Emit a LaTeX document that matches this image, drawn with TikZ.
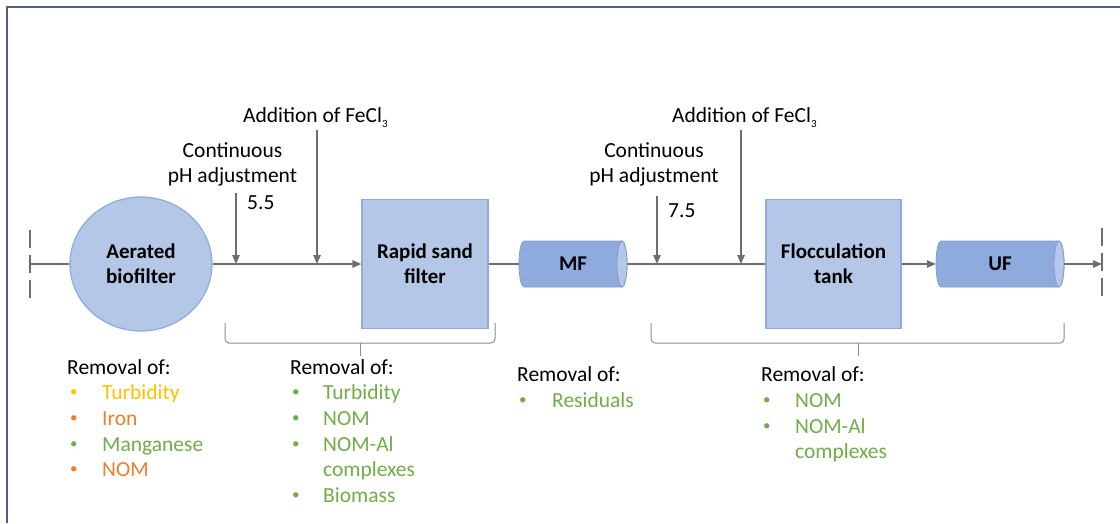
\documentclass[tikz,border=0pt]{standalone}
\usepackage{fontspec}
\setmainfont{Carlito}
\usetikzlibrary{arrows.meta,shapes.geometric}
\definecolor{boxfill}{HTML}{B4C7E7}
\definecolor{boxline}{HTML}{8FAADC}
\definecolor{cylfill}{HTML}{8FAADC}
\definecolor{cylline}{HTML}{7F9BD0}
\definecolor{lin}{HTML}{6E6E6E}
\definecolor{brc}{HTML}{8C8C8C}
\definecolor{framec}{HTML}{4F5D80}
\definecolor{ylw}{HTML}{FFC000}
\definecolor{org}{HTML}{ED7D31}
\definecolor{grn}{HTML}{70AD47}
\newcommand{\subthree}{\raisebox{-0.55ex}{\fontsize{11}{11}\selectfont 3}}
\begin{document}
\begin{tikzpicture}[x=1pt,y=-1pt,
  txt/.style={font=\fontsize{21.5}{25}\selectfont, inner sep=0pt, anchor=base west},
  bul/.style={font=\fontsize{15}{15}\selectfont, inner sep=0pt, anchor=base west},
  lbl/.style={font=\fontsize{21}{25}\selectfont\bfseries, align=center, inner sep=0pt},
  unit/.style={fill=boxfill, draw=boxline, line width=1.2pt},
  cylbody/.style={fill=cylfill, draw=cylline, line width=0.8pt},
  cylend/.style={fill=boxfill, draw=cylline, line width=0.8pt},
  flow/.style={draw=lin, line width=1.3pt, -{Triangle[length=9pt,width=7.5pt]}},
  pipe/.style={draw=lin, line width=1.3pt},
  bar/.style={draw=lin, line width=2.8pt, dash pattern=on 18pt off 7pt},
  brace/.style={draw=brc, line width=1pt, rounded corners=4pt},
  ]
\path[use as bounding box] (0,0) rectangle (1120,523);
\draw[framec, line width=2pt] (7,523) -- (7,7) -- (1120,7);

% units
\node[unit, ellipse, minimum width=142, minimum height=134, lbl] (bio) at (141,264) {Aerated\\biofilter};
\node[unit, rectangle, minimum width=126, minimum height=129, lbl] (rsf) at (425,264) {Rapid sand\\filter};
\node[unit, rectangle, minimum width=135, minimum height=129, lbl] (floc) at (833.5,264) {Flocculation\\tank};

% MF cylinder
\path[cylbody] (524,241) -- (622,241) arc[start angle=90, end angle=-90, x radius=5pt, y radius=23pt]
  -- (524,287) arc[start angle=270, end angle=90, x radius=5pt, y radius=23pt] -- cycle;
\path[cylend] (622,264) ellipse[x radius=5pt, y radius=23pt];
\node[lbl, minimum width=108, minimum height=46] (mf) at (573,264) {MF};
% UF cylinder
\path[cylbody] (941,241) -- (1059,241) arc[start angle=90, end angle=-90, x radius=5pt, y radius=23pt]
  -- (941,287) arc[start angle=270, end angle=90, x radius=5pt, y radius=23pt] -- cycle;
\path[cylend] (1059,264) ellipse[x radius=5pt, y radius=23pt];
\node[lbl, minimum width=128, minimum height=46] (uf) at (1000,264) {UF};

% inlet / outlet
\coordinate (inlet) at (30,264);
\coordinate (outlet) at (1102,264);
\draw[bar] (30,230) -- (30,298);
\draw[bar] (1102,228) -- (1102,296);

% flow
\draw[pipe] (inlet) -- (bio.west);
\draw[flow] (bio.east) -- (rsf.west);
\draw[pipe] (rsf.east) -- (mf.west);
\draw[pipe] (mf.east) -- (floc.west);
\draw[flow] (floc.east) -- (uf.west);
\draw[flow] (uf.east) -- (outlet);

% dosing
\coordinate (ph1s) at (236,193);  \coordinate (ph1e) at (236,264);
\coordinate (fe1s) at (317,130);  \coordinate (fe1e) at (317,264);
\coordinate (ph2s) at (657,196);  \coordinate (ph2e) at (657,264);
\coordinate (fe2s) at (741,130);  \coordinate (fe2e) at (741,264);
\draw[flow] (ph1s) -- (ph1e);
\draw[flow] (fe1s) -- (fe1e);
\draw[flow] (ph2s) -- (ph2e);
\draw[flow] (fe2s) -- (fe2e);

\node[txt] (add1) at (243,122) {Addition of FeCl\subthree};
\node[txt] (add2) at (672,122) {Addition of FeCl\subthree};
\node[txt, anchor=base] (cont1) at (232.5,157) {Continuous};
\node[txt, anchor=base] (phadj1) at (232.5,182) {pH adjustment};
\node[txt, anchor=base] (cont2) at (654,157) {Continuous};
\node[txt, anchor=base] (phadj2) at (654,182) {pH adjustment};
\node[txt] (ph55) at (247,209) {5.5};
\node[txt] (ph75) at (668,217) {7.5};

% braces
\draw[brace] (225,323) |- (495,343) -- (495,323);
\coordinate (b1top) at (360,343); \coordinate (b1tip) at (360,356);
\draw[brace] (b1top) -- (b1tip);
\draw[brace] (651,323) |- (1064,343) -- (1064,323);
\coordinate (b2top) at (858,343); \coordinate (b2tip) at (858,356);
\draw[brace] (b2top) -- (b2tip);

% removal lists
\node[txt] (r1) at (67,374) {Removal of:};
\node[bul, text=ylw] (r1a) at (70,396) {•}; \node[txt, text=ylw] (r1at) at (102,399) {Turbidity};
\node[bul, text=org] (r1b) at (70,422) {•}; \node[txt, text=org] (r1bt) at (102,425) {Iron};
\node[bul, text=grn] (r1c) at (70,448) {•}; \node[txt, text=grn] (r1ct) at (102,451) {Manganese};
\node[bul, text=org] (r1d) at (70,473) {•}; \node[txt, text=org] (r1dt) at (102,476) {NOM};

\node[txt] (r2) at (290,374) {Removal of:};
\node[bul, text=grn] (r2a) at (292,396) {•}; \node[txt, text=grn] (r2at) at (323,399) {Turbidity};
\node[bul, text=grn] (r2b) at (292,422) {•}; \node[txt, text=grn] (r2bt) at (323,425) {NOM};
\node[bul, text=grn] (r2c) at (292,448) {•}; \node[txt, text=grn] (r2ct) at (323,451) {NOM-Al};
\node[txt, text=grn] (r2cc) at (323,476) {complexes};
\node[bul, text=grn] (r2d) at (292,499) {•}; \node[txt, text=grn] (r2dt) at (323,502) {Biomass};

\node[txt] (r3) at (517,381) {Removal of:};
\node[bul, text=grn] (r3a) at (519,404) {•}; \node[txt, text=grn] (r3at) at (552,407) {Residuals};

\node[txt] (r4) at (761,381) {Removal of:};
\node[bul, text=grn] (r4a) at (763,404) {•}; \node[txt, text=grn] (r4at) at (795,407) {NOM};
\node[bul, text=grn] (r4b) at (763,430) {•}; \node[txt, text=grn] (r4bt) at (795,433) {NOM-Al};
\node[txt, text=grn] (r4bc) at (795,458) {complexes};
\end{tikzpicture}
\end{document}
